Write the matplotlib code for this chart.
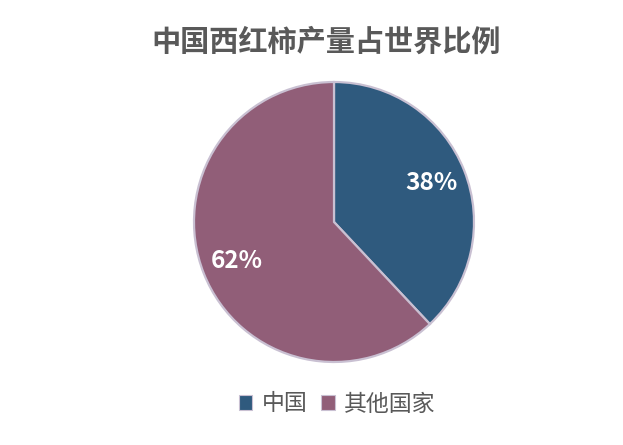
import matplotlib
matplotlib.use('Agg')
import matplotlib.pyplot as plt
from matplotlib.patches import Patch

plt.rcParams['font.family'] = ['Noto Sans CJK SC', 'DejaVu Sans']

# 数据
labels = ['中国', '其他国家']
shares = [38, 62]
colors = ['#2F5A7E', '#915E78']
title = '中国西红柿产量占世界比例'

W, H = 623, 445
fig = plt.figure(figsize=(W / 100, H / 100), dpi=100)
fig.patch.set_facecolor('white')

# 饼图区域: 圆心 (334,222), 半径 140 px
cx, cy, r = 334, 222, 140
ax = fig.add_axes([(cx - r) / W, (H - cy - r) / H, 2 * r / W, 2 * r / H])
wedges, texts, autotexts = ax.pie(
    shares, colors=colors, startangle=90, counterclock=False,
    autopct='%d%%', pctdistance=0.75,
    wedgeprops=dict(edgecolor='#C9C0D2', linewidth=1.6),
    textprops=dict(color='white', fontsize=17.5, fontweight='bold'))
ax.set_aspect('equal')
ax.set_xlim(-1, 1)
ax.set_ylim(-1, 1)
ax.axis('off')

fig.text(326 / W, 1 - 42 / H, title, ha='center', va='center',
         fontsize=21, fontweight='bold', color='#595959')

handles = [Patch(facecolor=c, edgecolor='#C9C0D2', linewidth=0.8) for c in colors]
fig.legend(handles, labels, loc='center', bbox_to_anchor=(337 / W, 1 - 404 / H),
           ncol=2, frameon=False, fontsize=16.5, handlelength=0.6, handleheight=0.6,
           handletextpad=0.4, columnspacing=0.6, labelcolor='#595959')

fig.savefig('out.png', dpi=100, facecolor='white')
